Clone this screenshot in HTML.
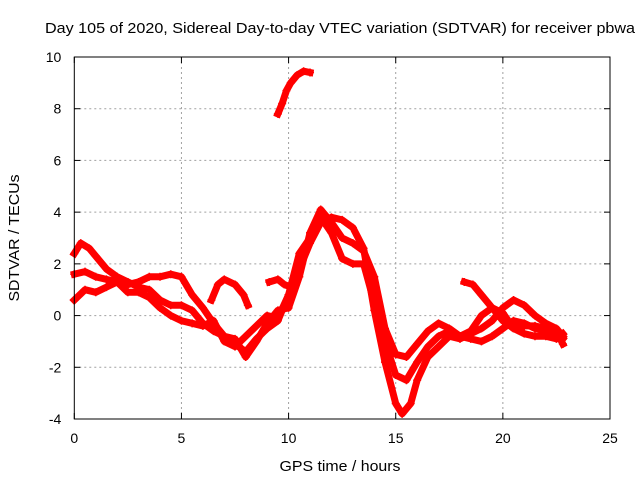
<!DOCTYPE html>
<html><head><meta charset="utf-8"><style>
body{margin:0;background:#fff;}
svg{display:block;font-family:"Liberation Sans",sans-serif;font-size:14px;}
</style></head><body>
<svg id="chart" width="640" height="480">
<text x="340" y="33" text-anchor="middle" font-size="15" textLength="590" lengthAdjust="spacingAndGlyphs">Day 105 of 2020, Sidereal Day-to-day VTEC variation (SDTVAR) for receiver pbwa</text>
<text x="340" y="471" text-anchor="middle" font-size="15" textLength="121" lengthAdjust="spacingAndGlyphs">GPS time / hours</text>
<text transform="translate(19,238) rotate(-90)" text-anchor="middle" font-size="15" textLength="127" lengthAdjust="spacingAndGlyphs">SDTVAR / TECUs</text>
<g id="grid"></g><g id="marks"></g><g id="axes"></g>
</svg>
<script>
const xTicks=[0,5,10,15,20,25];
const yTicks=[-4,-2,0,2,4,6,8,10];
const seriesArc=[[9.5,7.8],[9.7,8.2],[9.9,8.7],[10.1,9.0],[10.4,9.3],[10.7,9.45],[11.0,9.4]];
const series1=[[0,2.4],[0.3,2.8],[0.7,2.6],[1,2.3],[1.5,1.8],[2,1.5],[2.5,1.3],[3,1.1],[3.5,1.0],[4,0.6],[4.5,0.4],[5,0.4],[5.5,0.2],[6,-0.3],[6.5,-0.6],[7,-0.8],[7.5,-1.1],[8,-1.4],[8.5,-0.9],[9,-0.5],[9.5,-0.2],[10,0.8],[10.5,1.8],[11,2.8],[11.5,3.6],[12,3.8],[12.5,3.7],[13,3.4],[13.5,2.6],[14,0.2],[14.5,-1.8],[15,-3.4],[15.3,-3.8],[15.7,-3.4],[16,-2.5],[16.5,-1.6],[17,-1.2],[17.5,-0.8],[18,-0.9],[18.5,-0.7],[19,-0.5],[19.5,-0.2],[20,0.3],[20.5,0.6],[21,0.4],[21.5,0.0],[22,-0.3],[22.5,-0.5],[22.8,-0.8]];
const series2=[[0,1.6],[0.5,1.7],[1,1.5],[1.5,1.4],[2,1.3],[2.5,1.2],[3,1.3],[3.5,1.5],[4,1.5],[4.5,1.6],[5,1.5],[5.5,0.8],[6,0.3],[6.5,-0.3],[7,-0.8],[7.5,-0.9],[8,-1.6],[8.5,-1.0],[9,-0.3],[9.5,0.2],[10,0.3],[10.5,1.5],[11,3.2],[11.5,4.1],[12,3.6],[12.5,3.0],[13,2.8],[13.5,2.5],[14,1.5],[14.5,-0.5],[15,-1.5],[15.5,-1.6],[16,-1.1],[16.5,-0.6],[17,-0.3],[17.5,-0.5],[18,-0.8],[18.5,-0.9],[19,-1.0],[19.5,-0.8],[20,-0.5],[20.5,-0.2],[21,-0.3],[21.5,-0.5],[22,-0.6],[22.5,-0.7],[22.8,-0.9]];
const series3=[[0,0.6],[0.5,1.0],[1,0.9],[1.5,1.1],[2,1.3],[2.5,0.9],[3,0.9],[3.5,0.7],[4,0.3],[4.5,0.0],[5,-0.2],[5.5,-0.3],[6,-0.4],[6.5,-0.2],[7,-1.0],[7.5,-1.2],[8,-0.8],[8.5,-0.4],[9,0.0],[9.5,-0.1],[10,0.8],[10.5,2.4],[11,3.0],[11.5,3.8],[12,3.2],[12.5,2.2],[13,2.0],[13.5,2.0],[14,0.5],[14.5,-1.0],[15,-2.3],[15.5,-2.5],[16,-1.8],[16.5,-1.2],[17,-0.8],[17.5,-0.6],[18,-0.8],[18.5,-0.6],[19,0.0],[19.5,0.3],[20,0.1],[20.5,-0.5],[21,-0.7],[21.5,-0.8],[22,-0.8],[22.5,-0.9],[22.8,-0.7]];
const series4=[[6.4,0.6],[6.7,1.2],[7,1.4],[7.5,1.2],[7.9,0.8],[8.1,0.4]];
const series5=[[9.1,1.3],[9.5,1.4],[9.8,1.2],[10.1,1.1],[10.4,1.8],[10.8,2.6],[11.2,3.3]];
const series6=[[18.2,1.3],[18.6,1.2],[19,0.8],[19.5,0.3],[20,-0.2],[20.5,-0.5],[21,-0.4],[21.5,-0.4],[22,-0.5],[22.5,-0.6],[22.8,-1.1]];
const allSeries=[seriesArc,series1,series2,series3,series4,series5,series6];
const L=74.3,R=610,T=57,B=419,xMax=25,yMin=-4,yMax=10;
const sx=v=>L+(v/xMax)*(R-L);
const sy=v=>B-(v-yMin)/(yMax-yMin)*(B-T);
const NS="http://www.w3.org/2000/svg";
function mk(tag,attrs,parent){const e=document.createElementNS(NS,tag);for(const k in attrs)e.setAttribute(k,attrs[k]);parent.appendChild(e);return e;}
const grid=document.getElementById('grid'),marks=document.getElementById('marks'),axes=document.getElementById('axes');
xTicks.forEach(t=>{
  const x=sx(t);
  if(t>0&&t<xMax){const g=mk('line',{x1:x,x2:x,y1:T,y2:B,stroke:'#a0a0a0','stroke-dasharray':'2,3'},grid);
  
  }
  mk('line',{x1:x,x2:x,y1:B,y2:B-6,stroke:'#000'},axes);
  mk('line',{x1:x,x2:x,y1:T,y2:T+6,stroke:'#000'},axes);
  const lb=mk('text',{x:x,y:B+24,'text-anchor':'middle'},axes);lb.textContent=t;
  
  
});
yTicks.forEach(t=>{
  const y=sy(t);
  if(t>yMin&&t<yMax){const g=mk('line',{x1:L,x2:R,y1:y,y2:y,stroke:'#a0a0a0','stroke-dasharray':'2,3'},grid);
  
  }
  mk('line',{x1:L,x2:L+6,y1:y,y2:y,stroke:'#000'},axes);
  mk('line',{x1:R,x2:R-6,y1:y,y2:y,stroke:'#000'},axes);
  const lb=mk('text',{x:L-13,y:y+5,'text-anchor':'end'},axes);lb.textContent=t;
  
  
});
const box=mk('rect',{x:L,y:T,width:R-L,height:B-T,fill:'none',stroke:'#000'},axes);


allSeries.forEach((s,i)=>{
  const pts=s.map(p=>sx(p[0])+','+sy(p[1])).join(' ');
  const pl=mk('polyline',{points:pts,fill:'none',stroke:'#ff0000','stroke-width':7,'stroke-linejoin':'round','stroke-linecap':'square'},marks);
  
  
  s.forEach(p=>{
    const x=sx(p[0]),y=sy(p[1]);
    const m=mk('path',{d:`M${x-4},${y}H${x+4}M${x},${y-4}V${y+4}`,stroke:'#ff0000','stroke-width':1.5},marks);
    
    
  });
});
</script>
</body></html>
